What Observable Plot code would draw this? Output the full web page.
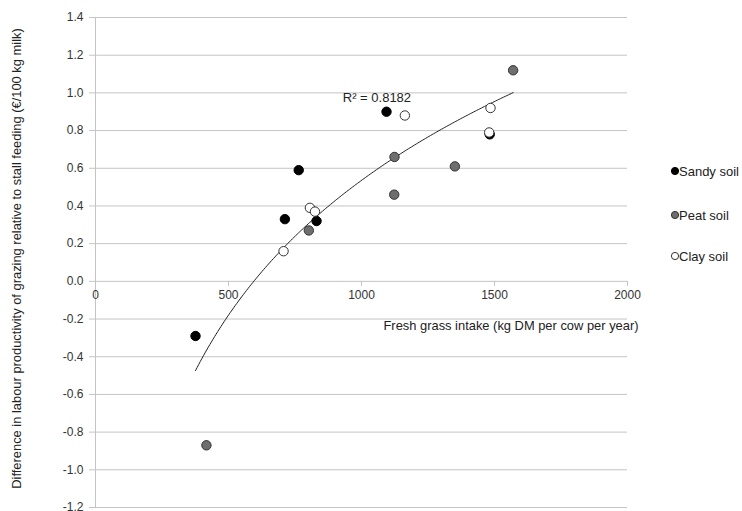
<!DOCTYPE html>
<html>
<head>
<meta charset="utf-8">
<script src="https://cdn.jsdelivr.net/npm/d3@7"></script>
<script src="https://cdn.jsdelivr.net/npm/@observablehq/plot@0.6"></script>
<style>
  html, body { margin: 0; padding: 0; background: #fff; }
  #wrap { position: relative; width: 742px; height: 511px; font-family: "Liberation Sans", Arial, sans-serif; }
  #legend { position: absolute; left: 670px; top: 0; font-size: 13px; color: #222; }
  .item { position: absolute; left: 0; white-space: nowrap; display: flex; align-items: center; height: 16px; }
</style>
</head>
<body>
<div id="wrap"></div>
<script>
// ---- data ----
const seriesNames = ["Sandy soil", "Peat soil", "Clay soil"];
const sandyX = [376, 712, 764, 831, 1094, 1482];
const sandyY = [-0.29, 0.33, 0.59, 0.32, 0.90, 0.78];
const peatX  = [417, 802, 1123, 1124, 1351, 1570];
const peatY  = [-0.87, 0.27, 0.46, 0.66, 0.61, 1.12];
const clayX  = [707, 806, 825, 1163, 1480, 1485];
const clayY  = [0.16, 0.39, 0.37, 0.88, 0.79, 0.92];
const xTicks = [0, 500, 1000, 1500, 2000];
const yTicks = [-1.2, -1.0, -0.8, -0.6, -0.4, -0.2, 0.0, 0.2, 0.4, 0.6, 0.8, 1.0, 1.2, 1.4];
const r2Label = "R² = 0.8182";
const xTitle = "Fresh grass intake (kg DM per cow per year)";
const yTitle = "Difference in labour productivity of grazing relative to stall feeding (€/100 kg milk)";

const fills = ["#000000", "#6e6e6e", "#ffffff"];
const strokes = ["#000000", "#333333", "#333333"];

const rows = [];
[[sandyX, sandyY], [peatX, peatY], [clayX, clayY]].forEach(([xs, ys], s) => {
  xs.forEach((x, i) => rows.push({series: seriesNames[s], s, x, y: ys[i]}));
});

// logarithmic trendline fitted to all points (least squares of y on ln x)
const L = rows.map(d => Math.log(d.x));
const mL = d3.mean(L), mY = d3.mean(rows, d => d.y);
const a = d3.sum(rows, (d, i) => (L[i] - mL) * (d.y - mY)) / d3.sum(L, l => (l - mL) ** 2);
const b = mY - a * mL;
const [xMin, xMax] = d3.extent(rows, d => d.x);
const trend = d3.range(0, 201).map(k => {
  const x = xMin + (xMax - xMin) * k / 200;
  return {x, y: a * Math.log(x) + b};
});

const gridColor = "#c4c4c4";

const chart = Plot.plot({
  width: 742,
  height: 511,
  marginLeft: 95,
  marginRight: 115,
  marginTop: 17,
  marginBottom: 4,
  x: {domain: [0, 2000], axis: null},
  y: {domain: [-1.2, 1.4]},
  style: {fontFamily: "'Liberation Sans', Arial, sans-serif", fontSize: "12px", color: "#333", background: "#fff", overflow: "visible"},
  marks: [
    Plot.ruleY(yTicks, {stroke: gridColor, strokeWidth: 1}),
    Plot.ruleX([0], {stroke: gridColor, strokeWidth: 1}),
    Plot.axisY(yTicks, {tickFormat: d => d.toFixed(1), tickSize: 6, stroke: gridColor, tickPadding: 6, label: null, fill: "#333"}),
    Plot.ruleX(xTicks, {x: d => d, y1: 0, y2: 0, insetBottom: -5, stroke: gridColor}),
    Plot.text(xTicks, {x: d => d, y: 0, dy: 14, text: d => String(d), fill: "#333"}),
    Plot.text([xTitle], {frameAnchor: "right", dx: 11, dy: 63, textAnchor: "end", fill: "#222", fontSize: 12.9}),
    Plot.text([yTitle], {frameAnchor: "left", rotate: -90, dx: -79, dy: -4, textAnchor: "middle", fill: "#222", fontSize: 12.9}),
    Plot.line(trend, {x: "x", y: "y", stroke: "#222", strokeWidth: 1}),
    Plot.dot(rows, {x: "x", y: "y", r: 4.7, fill: d => fills[d.s], stroke: d => strokes[d.s], strokeWidth: 1}),
    Plot.text([r2Label], {x: 1058, y: 0.975, fill: "#222", fontSize: 13})
  ]
});

const wrap = document.getElementById("wrap");
wrap.appendChild(chart);

// legend
const legend = document.createElement("div");
legend.id = "legend";
const legTops = [163, 207, 248];
seriesNames.forEach((name, i) => {
  const item = document.createElement("div");
  item.className = "item";
  item.style.top = legTops[i] + "px";
  item.innerHTML = `<svg width="9" height="16"><circle cx="5" cy="8" r="3.6" fill="${fills[i]}" stroke="${strokes[i]}" stroke-width="1"/></svg><span>${name}</span>`;
  legend.appendChild(item);
});
wrap.appendChild(legend);
</script>
</body>
</html>
